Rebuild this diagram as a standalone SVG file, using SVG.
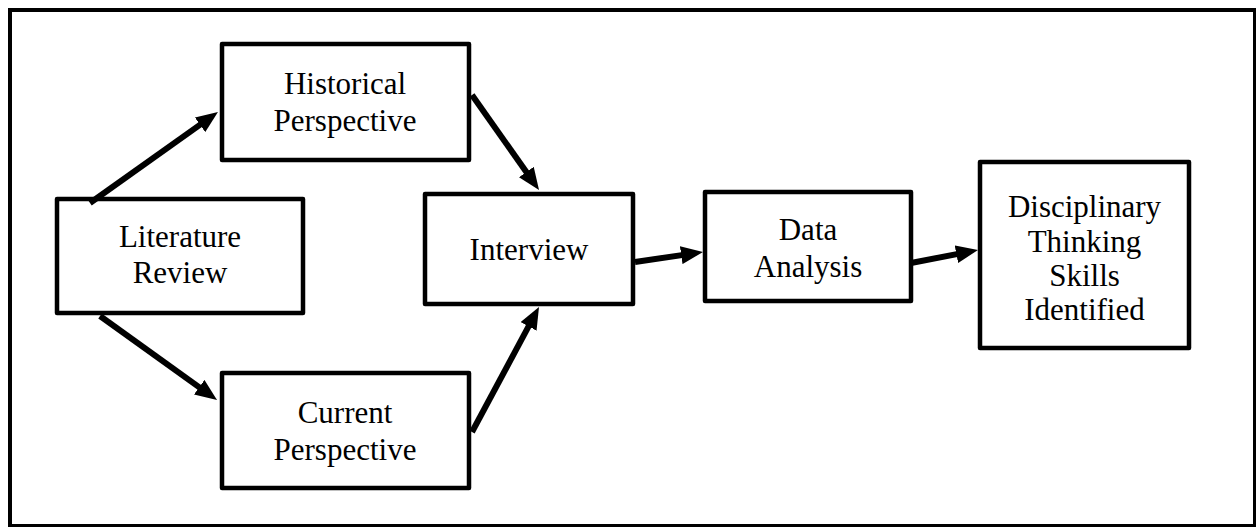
<svg xmlns="http://www.w3.org/2000/svg" width="1256" height="527" viewBox="0 0 1256 527">
  <style>
    .box { fill: #ffffff; stroke: #000000; stroke-width: 4.5; stroke-linejoin: round; }
    .frame { fill: #ffffff; stroke: #000000; stroke-width: 4; }
    .label { font-family: "Liberation Serif", "Times New Roman", serif; font-size: 31px; fill: #000000; text-anchor: middle; }
    .edge { stroke: #000000; stroke-width: 6; fill: none; marker-end: url(#head); }
  </style>
  <defs>
    <marker id="head" viewBox="0 0 22 18" refX="11" refY="9" markerWidth="22" markerHeight="18" markerUnits="userSpaceOnUse" orient="auto">
      <path d="M0,0 L22,9 L0,18 Z" fill="#000000"/>
    </marker>
  </defs>

  <!-- outer frame -->
  <rect class="frame" x="10" y="10" width="1245" height="516"/>

  <g id="literature-review">
    <rect class="box" x="57" y="199" width="246" height="114"/>
    <text class="label" x="180" y="247">Literature</text>
    <text class="label" x="180" y="283">Review</text>
  </g>

  <g id="historical-perspective">
    <rect class="box" x="222" y="44" width="247" height="116"/>
    <text class="label" x="345" y="94">Historical</text>
    <text class="label" x="345" y="131">Perspective</text>
  </g>

  <g id="current-perspective">
    <rect class="box" x="222" y="373" width="247" height="115"/>
    <text class="label" x="345" y="423">Current</text>
    <text class="label" x="345" y="460">Perspective</text>
  </g>

  <g id="interview">
    <rect class="box" x="425" y="194" width="208" height="110"/>
    <text class="label" x="529" y="260">Interview</text>
  </g>

  <g id="data-analysis">
    <rect class="box" x="705" y="192" width="206" height="109"/>
    <text class="label" x="808" y="240">Data</text>
    <text class="label" x="808" y="277">Analysis</text>
  </g>

  <g id="disciplinary-thinking">
    <rect class="box" x="980" y="162" width="209" height="186"/>
    <text class="label" x="1084.5" y="217">Disciplinary</text>
    <text class="label" x="1084.5" y="252">Thinking</text>
    <text class="label" x="1084.5" y="286">Skills</text>
    <text class="label" x="1084.5" y="320">Identified</text>
  </g>

  <!-- line ends sit 11px short of each tip; the marker supplies the rest -->
  <g id="connectors">
    <line class="edge" x1="90" y1="203" x2="209.0" y2="118.4"/>
    <line class="edge" x1="100" y1="316" x2="208.1" y2="393.6"/>
    <line class="edge" x1="472" y1="95" x2="532.7" y2="181.0"/>
    <line class="edge" x1="472" y1="432" x2="533.8" y2="316.7"/>
    <line class="edge" x1="635" y1="262" x2="692.1" y2="253.6"/>
    <line class="edge" x1="911" y1="263" x2="967.2" y2="252.1"/>
  </g>
</svg>
